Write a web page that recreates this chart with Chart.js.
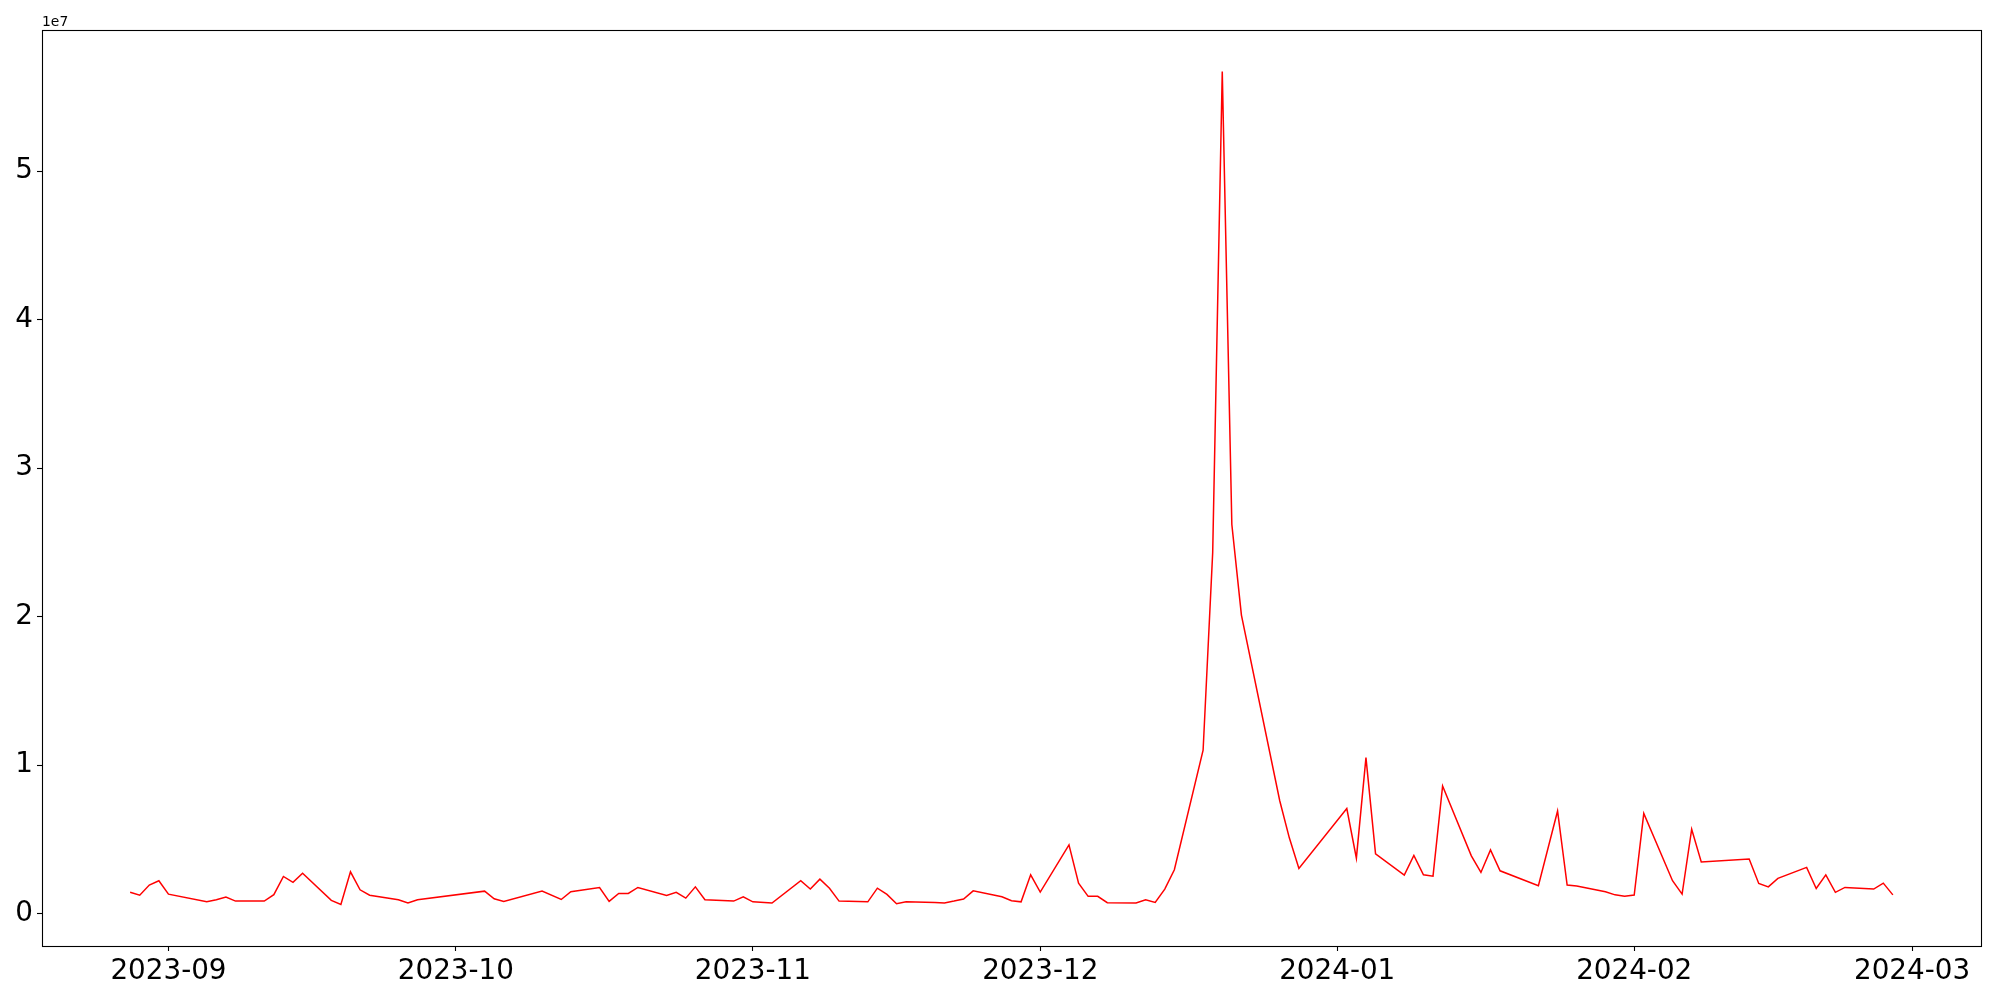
<!DOCTYPE html>
<html>
<head>
<meta charset="utf-8">
<script src="https://cdn.jsdelivr.net/npm/chart.js@4.4.1/dist/chart.umd.min.js"></script>
<style>
html,body{margin:0;padding:0;background:#fff;}
#wrap{width:2000px;height:1000px;}
</style>
</head>
<body>
<div id="wrap"><canvas id="c" width="2000" height="1000"></canvas></div>
<script>
// ---- data ----
const dates = [
"2023-08-28","2023-08-29","2023-08-30","2023-08-31","2023-09-01","2023-09-05","2023-09-06","2023-09-07","2023-09-08",
"2023-09-11","2023-09-12","2023-09-13","2023-09-14","2023-09-15","2023-09-18","2023-09-19","2023-09-20","2023-09-21",
"2023-09-22","2023-09-25","2023-09-26","2023-09-27","2023-10-04","2023-10-05","2023-10-06","2023-10-10","2023-10-12",
"2023-10-13","2023-10-16","2023-10-17","2023-10-18","2023-10-19","2023-10-20","2023-10-23","2023-10-24","2023-10-25",
"2023-10-26","2023-10-27","2023-10-30","2023-10-31","2023-11-01","2023-11-03","2023-11-06","2023-11-07","2023-11-08",
"2023-11-09","2023-11-10","2023-11-13","2023-11-14","2023-11-15","2023-11-16","2023-11-17","2023-11-20","2023-11-21",
"2023-11-22","2023-11-23","2023-11-24","2023-11-27","2023-11-28","2023-11-29","2023-11-30","2023-12-01","2023-12-04",
"2023-12-05","2023-12-06","2023-12-07","2023-12-08","2023-12-11","2023-12-12","2023-12-13","2023-12-14","2023-12-15",
"2023-12-18","2023-12-19","2023-12-20","2023-12-21","2023-12-22","2023-12-26","2023-12-27","2023-12-28","2024-01-02",
"2024-01-03","2024-01-04","2024-01-05","2024-01-08","2024-01-09","2024-01-10","2024-01-11","2024-01-12","2024-01-15",
"2024-01-16","2024-01-17","2024-01-18","2024-01-22","2024-01-24","2024-01-25","2024-01-26","2024-01-29",
"2024-01-30","2024-01-31","2024-02-01","2024-02-02","2024-02-05","2024-02-06","2024-02-07","2024-02-08","2024-02-13",
"2024-02-14","2024-02-15","2024-02-16","2024-02-19","2024-02-20","2024-02-21","2024-02-22","2024-02-23","2024-02-26",
"2024-02-27","2024-02-28"
];
const valuesMillions = [
1.43,1.24,1.92,2.21,1.31,0.80,0.93,1.11,0.84,
0.84,1.27,2.50,2.10,2.72,0.89,0.62,2.81,1.60,
1.24,0.93,0.71,0.93,1.51,1.00,0.82,1.51,0.95,
1.47,1.75,0.82,1.36,1.36,1.76,1.22,1.43,1.04,
1.80,0.93,0.84,1.13,0.79,0.71,2.21,1.65,2.32,
1.71,0.84,0.79,1.71,1.29,0.66,0.79,0.74,0.72,
0.84,0.98,1.53,1.13,0.86,0.79,2.61,1.45,4.63,
2.05,1.16,1.16,0.73,0.71,0.93,0.75,1.65,2.95,
11.0,24.3,56.7,26.2,20.1,7.6,5.1,3.04,7.07,
3.73,10.50,4.02,2.59,3.91,2.61,2.52,8.59,3.89,
2.77,4.29,2.88,1.87,6.91,1.92,1.85,1.47,
1.26,1.17,1.25,6.74,2.21,1.31,5.68,3.48,3.67,
2.03,1.80,2.37,3.11,1.69,2.61,1.43,1.76,1.65,
2.05,1.26
];
const xTickLabels = ["2023-09","2023-10","2023-11","2023-12","2024-01","2024-02","2024-03"];
const yTickValues = [0,1e7,2e7,3e7,4e7,5e7];
const yTickLabels = ["0","1","2","3","4","5"];
const offsetLabel = "1e7";

// ---- helpers ----
const DAY = 86400000;
function dayNum(s){const p=s.split("-").map(Number);return Date.UTC(p[0],p[1]-1,p[2]||1)/DAY;}
function fmtMonth(d){const t=new Date(d*DAY);return t.getUTCFullYear()+"-"+String(t.getUTCMonth()+1).padStart(2,"0");}

const points = dates.map((d,i)=>({x:dayNum(d), y:valuesMillions[i]*1e6}));
const xs = points.map(p=>p.x), ys = points.map(p=>p.y);
const xMin0=Math.min(...xs), xMax0=Math.max(...xs), yMin0=Math.min(...ys), yMax0=Math.max(...ys);
const xr=xMax0-xMin0, yr=yMax0-yMin0;
const xTickValues = xTickLabels.map(dayNum);

const FONT = '"DejaVu Sans", "Liberation Sans", sans-serif';

const framePlugin = {
  id:'frame',
  afterDraw(chart){
    const {ctx, chartArea:a} = chart;
    ctx.save();
    ctx.strokeStyle='#000';
    ctx.lineWidth=1.1;
    ctx.strokeRect(a.left+0.5, a.top+0.5, a.right-a.left, a.bottom-a.top);
    ctx.fillStyle='#000';
    ctx.font='13.9px '+FONT;
    ctx.textAlign='left';
    ctx.textBaseline='alphabetic';
    ctx.fillText(offsetLabel, a.left, a.top-4);
    ctx.restore();
  }
};

new Chart(document.getElementById('c'), {
  type:'line',
  data:{datasets:[{
    data:points,
    borderColor:'#ff0000',
    borderWidth:1.5,
    pointRadius:0,
    tension:0,
    fill:false
  }]},
  options:{
    responsive:false,
    devicePixelRatio:1,
    animation:false,
    layout:{padding:{left:0,top:30,right:19,bottom:0}},
    plugins:{legend:{display:false},tooltip:{enabled:false},title:{display:false}},
    scales:{
      x:{
        type:'linear',
        min:xMin0-0.05*xr,
        max:xMax0+0.05*xr,
        afterBuildTicks(s){s.ticks=xTickValues.map(v=>({value:v}));},
        afterFit(s){s.height=54;},
        ticks:{
          autoSkip:false,maxRotation:0,padding:4,color:'#000',
          font:{family:FONT,size:27.8},
          callback:(v)=>fmtMonth(v)
        },
        grid:{drawOnChartArea:false,drawTicks:true,tickLength:5,tickColor:'#000',tickWidth:1.1},
        border:{display:false}
      },
      y:{
        type:'linear',
        min:yMin0-0.05*yr,
        max:yMax0+0.05*yr,
        afterBuildTicks(s){s.ticks=yTickValues.map(v=>({value:v}));},
        afterFit(s){s.width=42;},
        ticks:{
          autoSkip:false,padding:4,color:'#000',
          font:{family:FONT,size:27.8},
          callback:(v)=>{const i=yTickValues.indexOf(v);return i>=0?yTickLabels[i]:'';}
        },
        grid:{drawOnChartArea:false,drawTicks:true,tickLength:5,tickColor:'#000',tickWidth:1.1},
        border:{display:false}
      }
    }
  },
  plugins:[framePlugin]
});
</script>
</body>
</html>
